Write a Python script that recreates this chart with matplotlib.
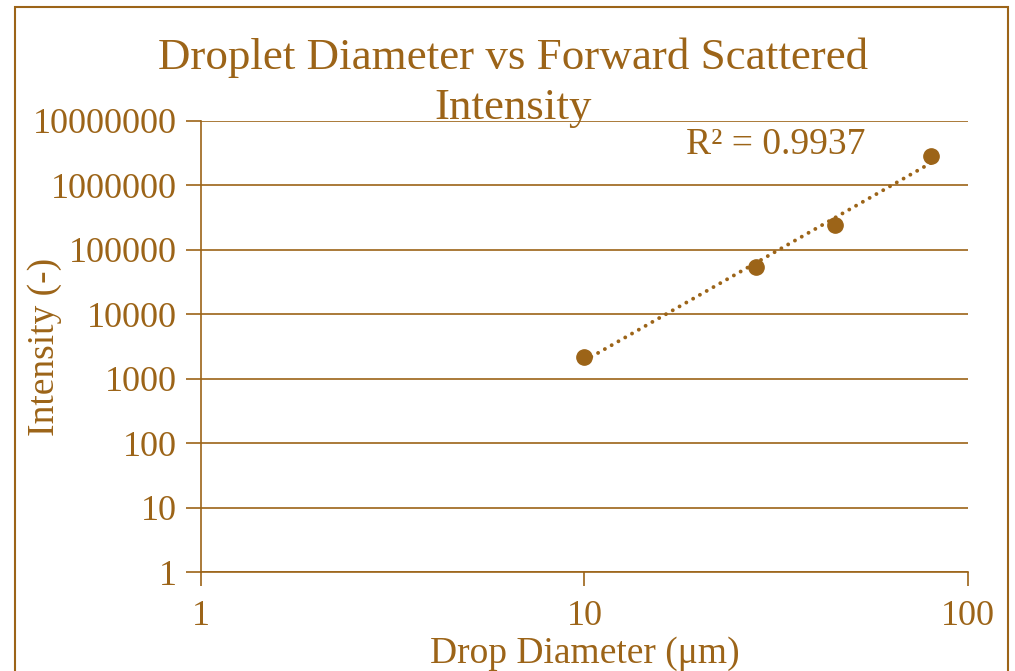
import numpy as np
import matplotlib.pyplot as plt
from matplotlib.patches import Rectangle

# droplet diameter (um) and forward scattered intensity
diameter = [10, 28, 45, 80]
intensity = [2200, 54500, 244000, 2880000]
r_squared_label = "R² = 0.9937"
x_ticks = [1, 10, 100]
y_ticks = [1, 10, 100, 1000, 10000, 100000, 1000000, 10000000]

BROWN = "#9c6418"
plt.rcParams['font.family'] = ['Liberation Serif', 'DejaVu Serif']

fig = plt.figure(figsize=(10.15, 6.71), dpi=100)
fig.patches.append(Rectangle((0.0148, -0.05), 0.978, 1.04, transform=fig.transFigure,
                             fill=False, edgecolor=BROWN, linewidth=1.5))

ax = fig.add_axes([0.198, 0.1475, 0.7557, 0.6722])
ax.set_xscale('log')
ax.set_yscale('log')
ax.set_xlim(1, 100)
ax.set_ylim(1, 1e7)

# power-law trendline fitted in log space
logx = np.log10(diameter)
logy = np.log10(intensity)
slope, intercept = np.polyfit(logx, logy, 1)
xfit = np.linspace(min(logx), max(logx), 50)
ax.plot(10 ** xfit, 10 ** (slope * xfit + intercept), color=BROWN,
        linestyle=(0, (0.01, 2.0)), linewidth=2.8, dash_capstyle='round')
ax.plot(diameter, intensity, 'o', color=BROWN, markersize=11)

ax.set_xticks(x_ticks)
ax.set_xticklabels([str(v) for v in x_ticks])
ax.set_yticks(y_ticks)
ax.set_yticklabels([str(v) for v in y_ticks])
ax.minorticks_off()
ax.tick_params(axis='both', colors=BROWN, labelsize=26, length=10, width=1.2)
ax.tick_params(axis='x', pad=10)
ax.tick_params(axis='y', pad=6, length=11)

for s in ['top', 'right']:
    ax.spines[s].set_visible(False)
for s in ['left', 'bottom']:
    ax.spines[s].set_color(BROWN)
    ax.spines[s].set_linewidth(1.2)
ax.grid(axis='y', color=BROWN, linewidth=1.2)
ax.set_axisbelow(True)

ax.set_xlabel("Drop Diameter (μm)", color=BROWN, fontsize=27)
ax.set_ylabel("Intensity (-)", color=BROWN, fontsize=27)
ax.xaxis.set_label_coords(0.5, -0.142)
ax.yaxis.set_label_coords(-0.181, 0.5)

fig.text(0.505, 0.914, "Droplet Diameter vs Forward Scattered", ha='center', va='center',
         color=BROWN, fontsize=32.4)
fig.text(0.505, 0.839, "Intensity", ha='center', va='center', color=BROWN, fontsize=32.4)
ax.text(0.75, 0.948, r_squared_label, transform=ax.transAxes, ha='center', va='center',
        color=BROWN, fontsize=27)

fig.savefig("out.png", dpi=100)
